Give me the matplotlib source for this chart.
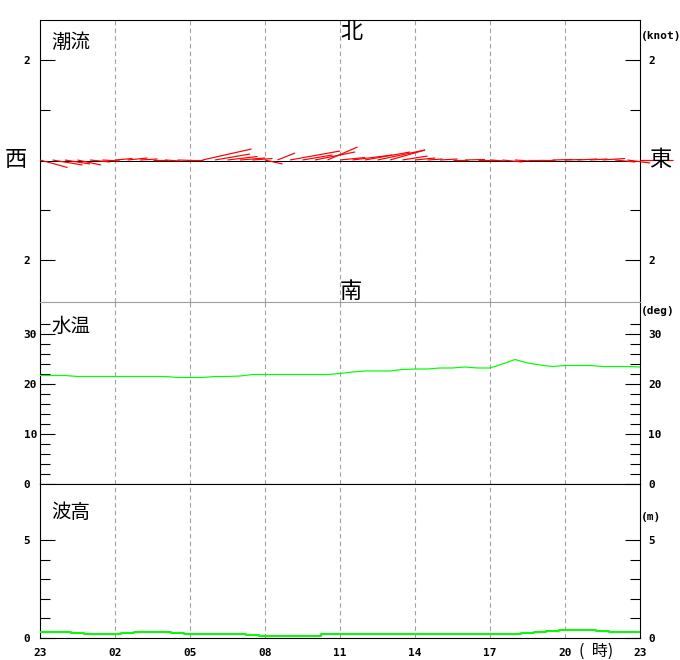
import matplotlib
matplotlib.use('Agg')
import matplotlib.pyplot as plt
import numpy as np
from matplotlib.collections import LineCollection

plt.rcParams['font.family'] = ['Noto Sans CJK JP', 'DejaVu Sans']

# ---------------- data ----------------
# time in hours since 23:00 (half-hourly samples)
hours = np.arange(49) * 0.5
hour_ticks = [0, 3, 6, 9, 12, 15, 18, 21, 24]
hour_labels = ['23', '02', '05', '08', '11', '14', '17', '20', '23']

# tidal current components (knot): east (+) / north (+)
current_east = [0.55, 0.60, 0.50, 0.47, 0.40, 0.35, 0.35, 0.40, 0.35, 0.30,
                0.30, 0.30, 0.25, 0.98, 0.70, 0.60, 0.50, 0.40, 0.35, 0.35,
                1.00, 0.60, 0.80, 0.60, 0.50, 0.80, 0.90, 0.95, 0.70, 0.50,
                0.40, 0.30, 0.35, 0.30, 0.40, 0.35, 0.30, 0.40, 0.30, 0.35,
                0.30, 0.40, 0.35, 0.40, 0.35, 0.45, 0.40, 0.45, 0.65]
current_north = [-0.15, -0.10, -0.08, -0.10, -0.04, -0.02, 0.03, 0.04, 0.02, 0.00,
                 -0.02, -0.01, 0.00, 0.22, 0.12, 0.07, 0.04, 0.03, -0.08, 0.14,
                 0.18, 0.10, 0.16, 0.26, 0.05, 0.10, 0.16, 0.20, 0.20, 0.08,
                 0.04, 0.02, 0.02, 0.00, 0.01, 0.00, -0.02, -0.04, -0.02, 0.00,
                 0.00, 0.01, 0.01, 0.02, 0.02, 0.03, -0.04, -0.06, 0.00]

# water temperature (deg)
water_temp = [21.7, 21.7, 21.7, 21.5, 21.5, 21.5, 21.5, 21.5, 21.5, 21.5,
              21.5, 21.3, 21.3, 21.3, 21.5, 21.5, 21.6, 21.9, 21.9, 21.9,
              21.9, 21.9, 21.9, 21.9, 22.1, 22.4, 22.6, 22.6, 22.6, 22.9,
              23.0, 23.0, 23.2, 23.2, 23.4, 23.2, 23.2, 24.0, 24.9, 24.2,
              23.8, 23.5, 23.7, 23.7, 23.7, 23.5, 23.5, 23.5, 23.4]

# wave height (m)
wave_height = [0.30, 0.30, 0.30, 0.25, 0.20, 0.20, 0.20, 0.25, 0.30, 0.30,
               0.30, 0.25, 0.20, 0.20, 0.20, 0.20, 0.20, 0.15, 0.10, 0.10,
               0.10, 0.10, 0.10, 0.20, 0.20, 0.20, 0.20, 0.20, 0.20, 0.20,
               0.20, 0.20, 0.20, 0.20, 0.20, 0.20, 0.20, 0.20, 0.20, 0.25,
               0.30, 0.35, 0.40, 0.40, 0.40, 0.35, 0.30, 0.30, 0.30]

# ---------------- layout ----------------
W, H = 680, 660
fig = plt.figure(figsize=(W / 100, H / 100), dpi=100)
fig.patch.set_facecolor('white')

PX = 0.72  # points per pixel
MONO = dict(family='DejaVu Sans Mono', weight='bold', size=8)


def rect(top, bottom, left=40, right=640):
    return [left / W, 1 - bottom / H, (right - left) / W, (bottom - top) / H]


ax1 = fig.add_axes(rect(20, 302))
ax2 = fig.add_axes(rect(302, 484))
ax3 = fig.add_axes(rect(484, 638))

ax1.set_ylim(-2.84, 2.8)
ax2.set_ylim(0, 36.4)
ax3.set_ylim(0, 154 / 19.6)

panels = [
    (ax1, [-2, 2], ['2', '2'], [-1, 1]),
    (ax2, [0, 10, 20, 30], ['0', '10', '20', '30'], list(range(2, 33, 2))),
    (ax3, [0, 5], ['0', '5'], [1, 2, 3, 4]),
]

for ax, majors, labels, minors in panels:
    ax.set_xlim(0, 24)
    for s in ax.spines.values():
        s.set_linewidth(1.1 * PX)
        s.set_color('black')
    ax.tick_params(axis='x', which='both', length=0, labelbottom=False)
    for xt in hour_ticks[1:-1]:
        ax.axvline(xt, color='#a0a0a0', lw=1.1 * PX, ls=(0, (4, 3)), zorder=1)
    ax.set_yticks(majors)
    ax.set_yticklabels(labels)
    ax.set_yticks(minors, minor=True)
    ax.tick_params(axis='y', which='both', direction='in', left=True, right=False,
                   width=1.1 * PX, color='black', pad=16.5 * PX)
    ax.tick_params(axis='y', which='major', length=15 * PX)
    ax.tick_params(axis='y', which='minor', length=10 * PX)
    for lab in ax.get_yticklabels():
        lab.set_fontproperties(matplotlib.font_manager.FontProperties(**MONO))
        lab.set_horizontalalignment('left')
    # right-hand axis
    axr = ax.twinx()
    axr.set_ylim(ax.get_ylim())
    axr.set_yticks(majors)
    axr.set_yticklabels(labels)
    axr.set_yticks(minors, minor=True)
    axr.tick_params(axis='y', which='both', direction='in', width=1.1 * PX,
                    color='black', pad=8 * PX)
    axr.tick_params(axis='y', which='major', length=15 * PX)
    axr.tick_params(axis='y', which='minor', length=10 * PX)
    for lab in axr.get_yticklabels():
        lab.set_fontproperties(matplotlib.font_manager.FontProperties(**MONO))
    for s in axr.spines.values():
        s.set_visible(False)

ax1.spines['bottom'].set_color('#a0a0a0')
ax2.spines['top'].set_color('#a0a0a0')

# x tick labels on the bottom panel
ax3.set_xticks(hour_ticks)
ax3.set_xticklabels(hour_labels)
ax3.tick_params(axis='x', which='both', length=0, labelbottom=True, pad=9.5 * PX)
for lab in ax3.get_xticklabels():
    lab.set_fontproperties(matplotlib.font_manager.FontProperties(**MONO))

# ---------------- tidal current sticks ----------------
# one knot horizontally = same pixel length as one knot vertically
px_per_hour = 600 / 24
px_per_knot = 50
hours_per_knot = px_per_knot / px_per_hour
ax1.axhline(-0.01, color='black', lw=1.0 * PX, zorder=2)
segs = [[(t, 0.0), (t + u * hours_per_knot, v)]
        for t, u, v in zip(hours, current_east, current_north)]
lc = LineCollection(segs, colors='#ff0000', linewidths=1.2 * PX, zorder=3,
                    clip_on=False)
ax1.add_collection(lc)

# ---------------- water temp & wave height ----------------
ax2.plot(hours, water_temp, color='#00ff00', lw=1.2 * PX, zorder=3)
ax3.plot(hours, wave_height, color='#00ff00', lw=2.0 * PX, zorder=3,
         drawstyle='steps-mid')

# ---------------- labels ----------------
def ftext(x, y, s, **kw):
    fig.text(x / W, 1 - y / H, s, **kw)

JP = dict(family=['Noto Sans CJK JP', 'DejaVu Sans'])
ftext(51, 42, '潮流', ha='left', va='center', fontsize=14, **JP)
ftext(51, 326, '水温', ha='left', va='center', fontsize=14, **JP)
ftext(51, 513, '波高', ha='left', va='center', fontsize=14, **JP)
ftext(351, 31, '北', ha='center', va='center', fontsize=16, **JP)
ftext(351, 291, '南', ha='center', va='center', fontsize=16, **JP)
ftext(16, 160, '西', ha='center', va='center', fontsize=16, **JP)
ftext(660, 160, '東', ha='center', va='center', fontsize=16, **JP)
ftext(596, 651, '(  時)', ha='center', va='center', fontsize=11.5, **JP)
ftext(641, 36, '(knot)', ha='left', va='center', **MONO)
ftext(641, 311, '(deg)', ha='left', va='center', **MONO)
ftext(641, 517, '(m)', ha='left', va='center', **MONO)

fig.savefig('out.png', dpi=100, facecolor='white')
